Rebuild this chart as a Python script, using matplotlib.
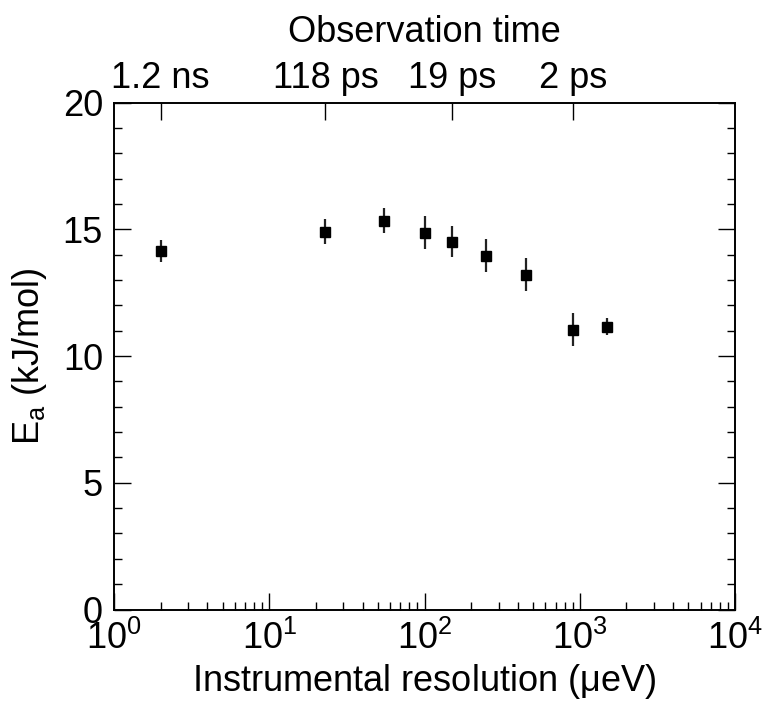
import numpy as np
import matplotlib
matplotlib.use('Agg')
import matplotlib.pyplot as plt
from matplotlib.ticker import LogLocator, MultipleLocator, NullLocator, NullFormatter

plt.rcParams['font.family'] = ['Liberation Sans', 'DejaVu Sans']
plt.rcParams['mathtext.fontset'] = 'custom'
plt.rcParams['mathtext.rm'] = 'Liberation Sans'
plt.rcParams['mathtext.it'] = 'Liberation Sans:italic'
plt.rcParams['mathtext.default'] = 'regular'

# data
resolution = [2, 23, 55, 100, 150, 250, 450, 900, 1500]       # ueV
ea = [14.15, 14.9, 15.34, 14.86, 14.51, 13.96, 13.21, 11.04, 11.16]  # kJ/mol
ea_err = [0.43, 0.49, 0.48, 0.65, 0.62, 0.64, 0.66, 0.66, 0.33]

top_ticks = [2, 23, 150, 900]
top_labels = ['1.2 ns', '118 ps', '19 ps', '2 ps']

FS = 26

fig = plt.figure(figsize=(7.66, 7.04), dpi=100)
ax = fig.add_axes([114/766, 1 - 609.5/704, 621/766, 507/704])

ax.errorbar(resolution, ea, yerr=ea_err, fmt='s', color='black', ms=7.4,
            ecolor='#222222', elinewidth=1.6, capsize=0)

ax.set_xscale('log')
ax.set_xlim(1, 1e4)
ax.set_ylim(0, 20)
ax.xaxis.set_major_locator(LogLocator(base=10, numticks=10))
ax.xaxis.set_minor_locator(LogLocator(base=10, subs=np.arange(2, 10), numticks=20))
ax.xaxis.set_minor_formatter(NullFormatter())
ax.yaxis.set_major_locator(MultipleLocator(5))
ax.yaxis.set_minor_locator(MultipleLocator(1))

ax.tick_params(axis='both', which='both', direction='in', labelsize=FS, width=1)
ax.tick_params(axis='x', which='both', top=False, bottom=True)
ax.tick_params(axis='y', which='both', left=True, right=True)
ax.tick_params(which='major', length=12)
ax.tick_params(which='minor', length=6)
ax.tick_params(axis='x', which='major', pad=8)
ax.tick_params(axis='y', which='major', pad=8)

ax.set_xlabel('Instrumental resolution ($\\mu$eV)', fontsize=FS, labelpad=4)
ax.set_ylabel('E$_{a}$ (kJ/mol)', fontsize=FS, labelpad=10)

ax2 = ax.twiny()
ax2.set_xscale('log')
ax2.set_xlim(ax.get_xlim())
ax2.set_xticks(top_ticks)
ax2.set_xticklabels(top_labels)
ax2.xaxis.set_minor_locator(NullLocator())
ax2.tick_params(axis='x', which='major', direction='in', length=12, width=1,
                labelsize=FS, pad=5)
ax2.set_xlabel('Observation time', fontsize=FS, labelpad=13)

for a in (ax, ax2):
    for s in a.spines.values():
        s.set_linewidth(1.2)

fig.savefig('out.png', dpi=100)
